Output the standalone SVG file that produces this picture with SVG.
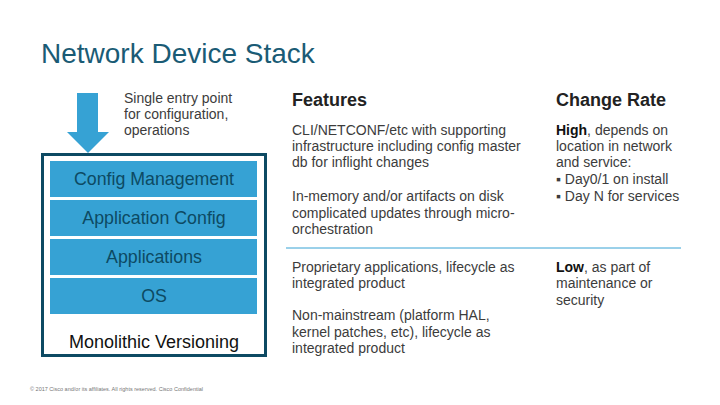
<svg xmlns="http://www.w3.org/2000/svg" width="720" height="405" viewBox="0 0 720 405">
<style>
.t{font-family:"Liberation Sans",Arial,sans-serif}
.bar{fill:#36a2d4}
.bl{font-family:"Liberation Sans",Arial,sans-serif;font-size:17.8px;fill:#0d4a63;text-anchor:middle}
.b{font-family:"Liberation Sans",Arial,sans-serif;font-size:14px;fill:#3c3c3c}
.h{font-family:"Liberation Sans",Arial,sans-serif;font-size:18px;font-weight:bold;fill:#222}
</style>
<rect width="720" height="405" fill="#fff"/>
<text class="t" x="41" y="63" font-size="28" fill="#1a5b75">Network Device Stack</text>
<g id="arrow"><polygon points="77,93 98,93 98,132 109,132 88,153 67,132 77,132" fill="#36a2d4"/></g>
<g id="entry"><text class="b"><tspan x="124" y="103">Single entry point</tspan><tspan x="124" y="119">for configuration,</tspan><tspan x="124" y="135">operations</tspan></text></g>
<g id="stack">
<rect x="42.5" y="154.5" width="223" height="201" fill="none" stroke="#0d4a63" stroke-width="3"/>
<text class="t" x="154" y="348" font-size="18" fill="#111" text-anchor="middle">Monolithic Versioning</text>
</g>
<g id="config-management"><rect class="bar" x="50" y="161" width="207" height="36"/><text class="bl" x="154" y="185">Config Management</text></g>
<g id="application-config"><rect class="bar" x="50" y="200" width="207" height="36"/><text class="bl" x="154" y="224">Application Config</text></g>
<g id="applications"><rect class="bar" x="50" y="239" width="207" height="36"/><text class="bl" x="154" y="263">Applications</text></g>
<g id="os"><rect class="bar" x="50" y="278" width="207" height="36"/><text class="bl" x="154" y="302">OS</text></g>
<g id="connectors"><line x1="286" y1="248" x2="681" y2="248" stroke="#36a2d4" stroke-width="1"/></g>
<g id="features">
<text class="h" x="292" y="106">Features</text>
<text class="b"><tspan x="292" y="135">CLI/NETCONF/etc with supporting</tspan><tspan x="292" y="151">infrastructure including config master</tspan><tspan x="292" y="167">db for inflight changes</tspan></text>
<text class="b"><tspan x="292" y="201">In-memory and/or artifacts on disk</tspan><tspan x="292" y="218">complicated updates through micro-</tspan><tspan x="292" y="234">orchestration</tspan></text>
<text class="b"><tspan x="292" y="272">Proprietary applications, lifecycle as</tspan><tspan x="292" y="288">integrated product</tspan></text>
<text class="b"><tspan x="292" y="320">Non-mainstream (platform HAL,</tspan><tspan x="292" y="337">kernel patches, etc), lifecycle as</tspan><tspan x="292" y="353">integrated product</tspan></text>
</g>
<g id="change-rate">
<text class="h" x="556" y="106">Change Rate</text>
<text class="b"><tspan x="556" y="135"><tspan font-weight="bold" fill="#111">High</tspan>, depends on</tspan><tspan x="556" y="151">location in network</tspan><tspan x="556" y="167">and service:</tspan><tspan x="556" y="184">▪ Day0/1 on install</tspan><tspan x="556" y="201">▪ Day N for services</tspan></text>
<text class="b"><tspan x="556" y="272"><tspan font-weight="bold" fill="#111">Low</tspan>, as part of</tspan><tspan x="556" y="288">maintenance or</tspan><tspan x="556" y="305">security</tspan></text>
</g>
<text class="t" x="30" y="391" font-size="5.5" fill="#777">© 2017 Cisco and/or its affiliates. All rights reserved.    Cisco Confidential</text>
</svg>
